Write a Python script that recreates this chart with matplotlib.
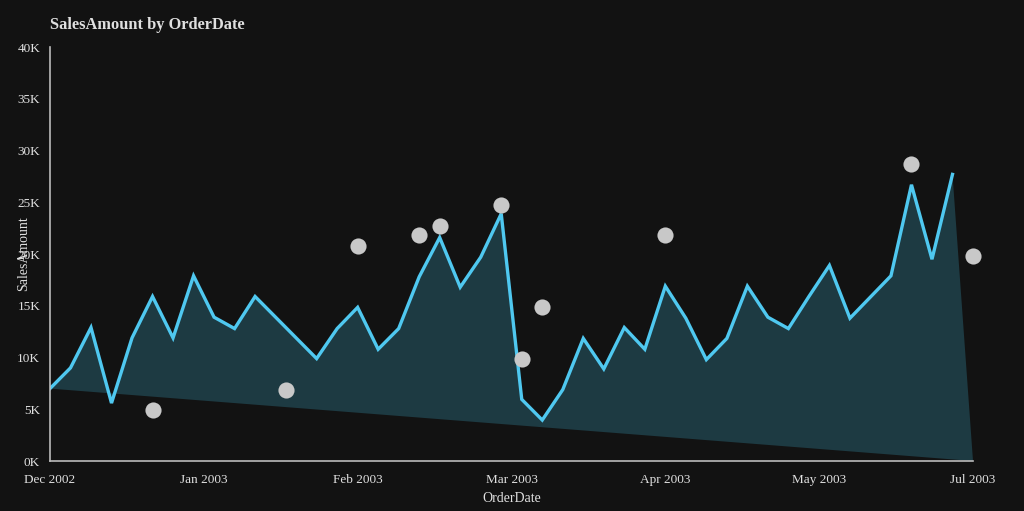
import numpy as np
import matplotlib
matplotlib.use("Agg")
import matplotlib.pyplot as plt
from matplotlib.ticker import FuncFormatter

BG = "#121212"
LINE_COLOR = "#4fc8f0"
FILL_COLOR = "#1d3a42"
DOT_COLOR = "#c8c8c8"
TEXT_COLOR = "#e0e0e0"

# weekly sales, one value per step along the x axis
sales = [7000, 9000, 12900, 5600, 11900, 15900, 11900, 17900, 13900, 12800,
         15900, 13900, 11900, 9900, 12800, 14850, 10800, 12800, 17800, 21600,
         16800, 19700, 23900, 5960, 3960, 6900, 11850, 8900, 12900, 10800,
         16900, 13800, 9800, 11850, 16900, 13900, 12800, 15900, 18900, 13800,
         15850, 17900, 26700, 19500, 27700]

# scattered points (position along the axis, value)
dot_pos = [5, 11.5, 15, 18, 19, 22, 23, 24, 30, 42, 45]
dot_vals = [4900, 6900, 20800, 21800, 22700, 24700, 9850, 14850, 21800, 28700, 19800]

tick_labels = ["Dec 2002", "Jan 2003", "Feb 2003", "Mar 2003", "Apr 2003", "May 2003", "Jul 2003"]
end_pos = 45

plt.rcParams["font.family"] = ["Liberation Serif", "DejaVu Serif"]

fig = plt.figure(figsize=(10.24, 5.11), dpi=100, facecolor=BG)
ax = fig.add_axes([0.0488, 0.0978, 0.9014, 0.810])
ax.set_facecolor(BG)

x = np.arange(len(sales))

# area closes down to zero at the end, then straight back to the start
poly_x = list(x) + [end_pos]
poly_y = list(sales) + [0]
ax.fill(poly_x, poly_y, color=FILL_COLOR, linewidth=0, zorder=1)
ax.plot(x, sales, color=LINE_COLOR, linewidth=2.4, solid_joinstyle="miter", zorder=2)
ax.scatter(dot_pos, dot_vals, s=135, color=DOT_COLOR, linewidths=0, zorder=3, clip_on=False)

ax.set_xlim(0, end_pos)
ax.set_ylim(0, 40000)
ax.set_xticks(np.linspace(0, end_pos, len(tick_labels)))
ax.set_xticklabels(tick_labels)
ax.set_yticks(np.arange(0, 40001, 5000))
ax.yaxis.set_major_formatter(FuncFormatter(lambda v, p: f"{int(v / 1000)}K"))

ax.tick_params(axis="both", length=0, colors=TEXT_COLOR, labelsize=9.5)
ax.tick_params(axis="x", pad=9)
ax.tick_params(axis="y", pad=7)

for side in ["top", "right"]:
    ax.spines[side].set_visible(False)
for side in ["left", "bottom"]:
    ax.spines[side].set_color("#bbbbbb")
    ax.spines[side].set_linewidth(1.2)

ax.set_xlabel("OrderDate", color=TEXT_COLOR, fontsize=10)
ax.xaxis.set_label_coords(0.5, -0.075)
ax.set_ylabel("SalesAmount", color=TEXT_COLOR, fontsize=10)
ax.yaxis.set_label_coords(-0.022, 0.5)

fig.text(50 / 1024, 1 - 25 / 511, "SalesAmount by OrderDate", color=TEXT_COLOR,
         fontsize=11.8, fontweight="bold", ha="left", va="center")

fig.savefig("out.png", dpi=100, facecolor=BG)
plt.close(fig)
